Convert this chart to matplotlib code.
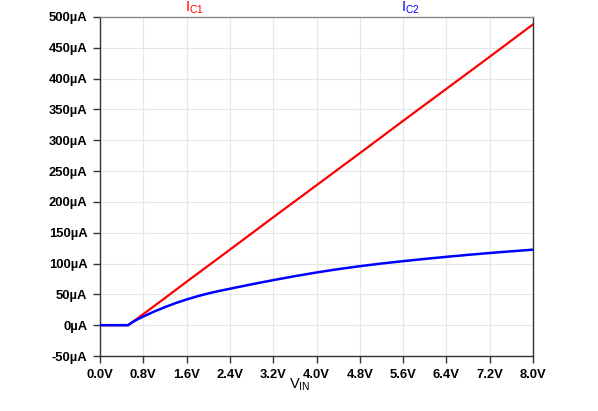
import matplotlib
matplotlib.use("Agg")
import matplotlib.pyplot as plt

plt.rcParams['font.family'] = ['Liberation Sans', 'DejaVu Sans']
plt.rcParams['mathtext.fontset'] = 'custom'
plt.rcParams['mathtext.rm'] = 'Liberation Sans'
plt.rcParams['mathtext.it'] = 'Liberation Sans'

# Data (µA vs V)
vin1 = [0.0, 0.52, 0.8, 1.2, 1.6, 2.0, 2.4, 3.2, 4.0, 4.8, 5.6, 6.4, 7.2, 8.0]
ic1 = [0, 0, 18, 44, 70.5, 96.5, 122.5, 175, 227, 279, 331.5, 383.5, 435.5, 488]

vin2 = [0.0, 0.52, 0.6, 0.7, 0.8, 1.0, 1.2, 1.4, 1.6, 1.8, 2.0, 2.2, 2.4, 2.8,
        3.2, 3.6, 4.0, 4.4, 4.8, 5.2, 5.6, 6.0, 6.4, 6.8, 7.2, 7.6, 8.0]
ic2 = [0, 0, 5, 9.7, 14.1, 22.1, 29.3, 35.9, 41.7, 46.9, 51.5, 55.5, 59.1, 66.3,
       73.1, 79.5, 85.5, 90.9, 95.7, 100, 103.9, 107.5, 110.9, 114.1, 117.1, 119.9, 122.5]

xticks = [0.0, 0.8, 1.6, 2.4, 3.2, 4.0, 4.8, 5.6, 6.4, 7.2, 8.0]
xtick_labels = ["0.0V", "0.8V", "1.6V", "2.4V", "3.2V", "4.0V", "4.8V", "5.6V", "6.4V", "7.2V", "8.0V"]
yticks = [-50, 0, 50, 100, 150, 200, 250, 300, 350, 400, 450, 500]
ytick_labels = ["-50µA", "0µA", "50µA", "100µA", "150µA", "200µA", "250µA",
                "300µA", "350µA", "400µA", "450µA", "500µA"]

fig = plt.figure(figsize=(5.98, 4.11), dpi=100)
ax = fig.add_axes([100/598, 1-356/411, 433/598, 339/411])

ax.plot(vin1, ic1, color='#ff0000', lw=1.6, zorder=3)
ax.plot(vin2, ic2, color='#0000ff', lw=1.8, zorder=3)

ax.set_xlim(0, 8)
ax.set_ylim(-50, 500)
ax.set_xticks(xticks)
ax.set_xticklabels(xtick_labels)
ax.set_yticks(yticks)
ax.set_yticklabels(ytick_labels)
ax.grid(True, color='#e6e6e6', lw=0.8)
ax.set_axisbelow(True)

for lbl in ax.get_xticklabels() + ax.get_yticklabels():
    lbl.set_fontweight('bold')
    lbl.set_fontsize(9.4)
    lbl.set_color('black')
ax.tick_params(axis='both', length=5, width=1, color='#333333', pad=4)

for s in ax.spines.values():
    s.set_color('#333333')
    s.set_linewidth(1)
ax.spines['top'].set_color('#888888')

fig.text(300/598, 1-385/411, r'$\mathrm{V_{IN}}$', ha='center', va='center', fontsize=10.5, color='black')
fig.text(194/598, 1-8/411, r'$\mathrm{I_{C1}}$', ha='center', va='center', fontsize=10.5, color='#ff0000')
fig.text(410/598, 1-8/411, r'$\mathrm{I_{C2}}$', ha='center', va='center', fontsize=10.5, color='#0000ff')

fig.savefig('out.png', dpi=100)
